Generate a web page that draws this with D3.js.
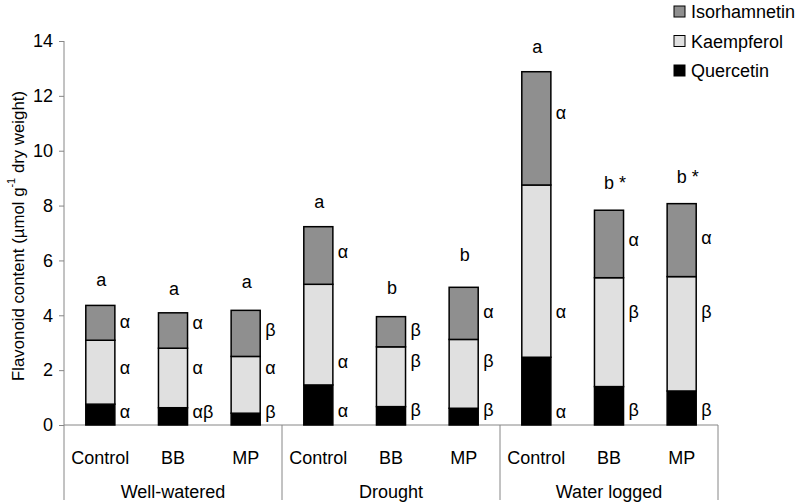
<!DOCTYPE html>
<html><head><meta charset="utf-8">
<script src="https://cdn.jsdelivr.net/npm/d3@7"></script>
<style>
html,body{margin:0;padding:0;background:#fff;}
svg{display:block;font-family:"Liberation Sans",Arial,sans-serif;}
</style></head>
<body><svg id="chart" width="799" height="504"></svg>
<script>
const groups = ["Well-watered","Drought","Water logged"];
const treatments = ["Control","BB","MP"];
const quercetin    = [0.76,0.63,0.43, 1.46,0.67,0.61, 2.47,1.40,1.24];
const kaempferol   = [2.33,2.17,2.07, 3.67,2.18,2.51, 6.28,3.97,4.17];
const isorhamnetin = [1.27,1.29,1.68, 2.10,1.10,1.90, 4.13,2.46,2.66];
const yTicks = [0,2,4,6,8,10,12,14];
const topLetters = ["a","a","a","a","b","b","a","b *","b *"];
const topLetterY = [5.29,4.96,5.22, 8.13,4.98,6.20, 13.79,8.81,9.05];
const sigQ = ["α","αβ","β","α","β","β","α","β","β"];
const sigK = ["α","α","α","α","β","β","α","β","β"];
const sigI = ["α","α","β","α","β","α","α","α","α"];
const sigQY = [0.48,0.48,0.48, 0.52,0.55,0.55, 0.48,0.55,0.55];
const sigKY = [2.08,2.08,2.08, 2.31,2.34,2.34, 4.13,4.13,4.13];
const sigIY = [3.75,3.72,3.46, 6.32,3.46,4.13, 11.36,6.74,6.81];
const seriesNames = ["Quercetin","Kaempferol","Isorhamnetin"];
const colors = {Quercetin:"#000000",Kaempferol:"#e0e0e0",Isorhamnetin:"#8f8f8f"};

const svg = d3.select("#chart");
const x0 = 64, x1 = 718, yTop = 41, yBot = 425;
const cats = [];
groups.forEach(g => treatments.forEach(t => cats.push(g + "|" + t)));
const rows = cats.map((c,i) => ({key:c, Quercetin:quercetin[i], Kaempferol:kaempferol[i], Isorhamnetin:isorhamnetin[i]}));

const x = d3.scaleBand().domain(cats).range([x0,x1]).paddingInner(0.6).paddingOuter(0.3);
const xg = d3.scaleBand().domain(groups).range([x0,x1]).padding(0);
const y = d3.scaleLinear().domain([0,14]).range([yBot,yTop]);
const axisCol = "#868686";
const fs = 18;

// y axis
const ya = svg.append("g").attr("transform",`translate(${x0},0)`)
  .call(d3.axisLeft(y).tickValues(yTicks).tickSize(5).tickPadding(6).tickFormat(d3.format("d")));
ya.select(".domain").attr("stroke",axisCol).attr("d",`M-0,${yTop}V${yBot}`);
ya.selectAll(".tick line").attr("stroke",axisCol);
ya.selectAll(".tick text").attr("font-size",fs).attr("fill","#000").attr("font-family","Liberation Sans, Arial, sans-serif");

// y title
const yt = svg.append("text").attr("transform",`translate(18,236) rotate(-90)`)
  .attr("text-anchor","middle").attr("dominant-baseline","central").attr("font-size",16.8).attr("fill","#000");
yt.append("tspan").text("Flavonoid content (µmol g");
yt.append("tspan").attr("font-size",11).attr("dy",-7).text("-1");
yt.append("tspan").attr("dy",7).text(" dry weight)");

// x axis line and group separators
svg.append("line").attr("x1",x0).attr("x2",x1).attr("y1",yBot).attr("y2",yBot).attr("stroke",axisCol);
const bounds = groups.map(g => xg(g)).concat([x1]);
svg.selectAll(".sep").data(bounds).join("line").attr("class","sep")
  .attr("x1",d=>d).attr("x2",d=>d).attr("y1",yBot).attr("y2",500).attr("stroke",axisCol);

// category labels
svg.selectAll(".cat").data(cats).join("text").attr("class","cat")
  .attr("x",d=>x(d)+x.bandwidth()/2).attr("y",458).attr("text-anchor","middle").attr("dominant-baseline","central")
  .attr("font-size",fs).text(d=>d.split("|")[1]);
svg.selectAll(".grp").data(groups).join("text").attr("class","grp")
  .attr("x",d=>xg(d)+xg.bandwidth()/2).attr("y",492).attr("text-anchor","middle").attr("dominant-baseline","central")
  .attr("font-size",fs).text(d=>d);

// stacked bars
const stack = d3.stack().keys(seriesNames)(rows);
const layers = svg.selectAll(".layer").data(stack).join("g").attr("class","layer")
  .attr("fill",d=>colors[d.key]);
layers.selectAll("rect").data(d=>d).join("rect")
  .attr("x",d=>x(d.data.key)).attr("width",x.bandwidth())
  .attr("y",d=>y(d[1])).attr("height",d=>y(d[0])-y(d[1]))
  .attr("stroke","#000").attr("stroke-width",1.5);

// letters
svg.selectAll(".top").data(cats).join("text").attr("class","top")
  .attr("x",(d,i)=>x(d)+x.bandwidth()/2 + (topLetters[i].length>1?6:1)).attr("y",(d,i)=>y(topLetterY[i]))
  .attr("text-anchor","middle").attr("dominant-baseline","central").attr("font-size",fs).text((d,i)=>topLetters[i]);
function sig(labels, ys, cls){
  svg.selectAll("."+cls).data(cats).join("text").attr("class",cls)
    .attr("x",d=>x(d)+x.bandwidth()+5).attr("y",(d,i)=>y(ys[i]))
    .attr("dominant-baseline","central").attr("font-size",fs).text((d,i)=>labels[i]);
}
sig(sigQ,sigQY,"sq"); sig(sigK,sigKY,"sk"); sig(sigI,sigIY,"si");

// legend
const legendOrder = ["Isorhamnetin","Kaempferol","Quercetin"];
const lg = svg.selectAll(".lg").data(legendOrder).join("g").attr("class","lg")
  .attr("transform",(d,i)=>`translate(674,${6+i*29.5})`);
lg.append("rect").attr("width",11).attr("height",11).attr("fill",d=>colors[d]).attr("stroke","#000").attr("stroke-width",1);
lg.append("text").attr("x",17).attr("y",6).attr("dominant-baseline","central").attr("font-size",fs).text(d=>d);
</script></body></html>
